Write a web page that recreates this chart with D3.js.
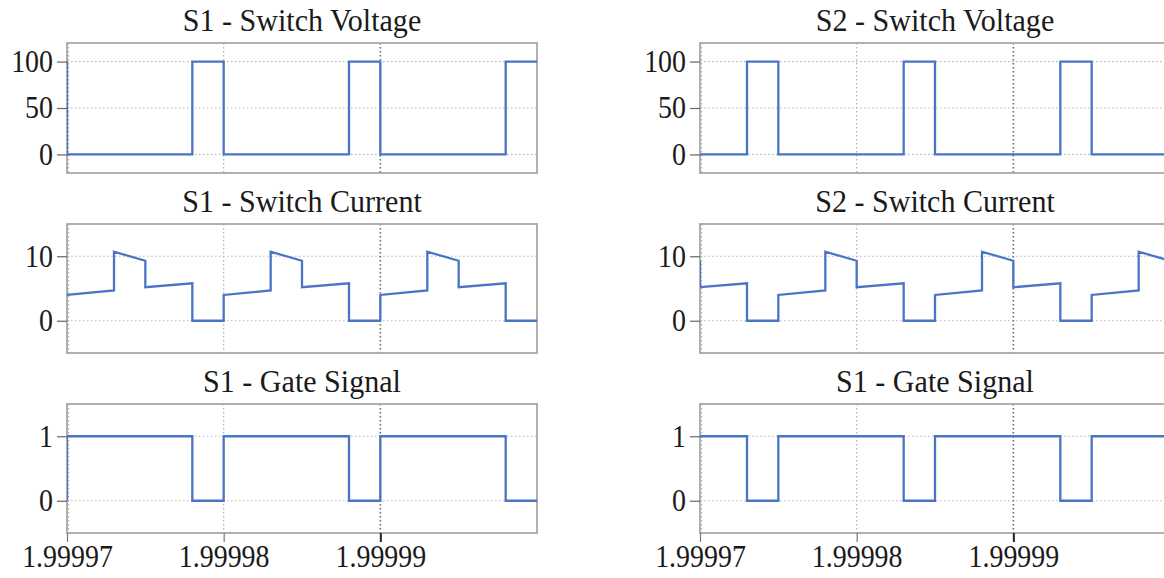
<!DOCTYPE html>
<html><head><meta charset="utf-8">
<script src="https://cdn.jsdelivr.net/npm/d3@7"></script>
<style>
html,body{margin:0;padding:0;background:#fff;overflow:hidden}
svg{display:block}
text{font-family:"Liberation Serif","Times New Roman",serif;fill:#1a1a1a}
</style></head><body>
<svg id="chart" width="1164" height="578"></svg>
<script>
// x axis: microseconds after t = 1.99997 s
const xTickTimes = [0, 10, 20];
const xTickLabels = ["1.99997", "1.99998", "1.99999"];
const xDomain = [0, 30];

const voltTicks = [0, 50, 100];
const currTicks = [0, 10];
const gateTicks = [0, 1];

// S1
const s1VoltT = [0, 0, 8, 8, 10, 10, 18, 18, 20, 20, 28, 28, 30];
const s1VoltV = [100, 0, 0, 100, 100, 0, 0, 100, 100, 0, 0, 100, 100];
const s1CurT = [0, 3, 3, 5, 5, 8, 8, 10, 10, 13, 13, 15, 15, 18, 18, 20, 20, 23, 23, 25, 25, 28, 28, 30];
const s1CurV = [4.0, 4.7, 10.7, 9.3, 5.2, 5.8, 0, 0, 4.0, 4.7, 10.7, 9.3, 5.2, 5.8, 0, 0, 4.0, 4.7, 10.7, 9.3, 5.2, 5.8, 0, 0];
const s1GateT = [0, 0, 8, 8, 10, 10, 18, 18, 20, 20, 28, 28, 30];
const s1GateV = [0, 1, 1, 0, 0, 1, 1, 0, 0, 1, 1, 0, 0];

// S2
const s2VoltT = [0, 3, 3, 5, 5, 13, 13, 15, 15, 23, 23, 25, 25, 30];
const s2VoltV = [0, 0, 100, 100, 0, 0, 100, 100, 0, 0, 100, 100, 0, 0];
const s2CurT = [0, 0, 3, 3, 5, 5, 8, 8, 10, 10, 13, 13, 15, 15, 18, 18, 20, 20, 23, 23, 25, 25, 28, 28, 30];
const s2CurV = [9.3, 5.2, 5.8, 0, 0, 4.0, 4.7, 10.7, 9.3, 5.2, 5.8, 0, 0, 4.0, 4.7, 10.7, 9.3, 5.2, 5.8, 0, 0, 4.0, 4.7, 10.7, 9.3];
const s2GateT = [0, 3, 3, 5, 5, 13, 13, 15, 15, 23, 23, 25, 25, 30];
const s2GateV = [1, 1, 0, 0, 1, 1, 0, 0, 1, 1, 0, 0, 1, 1];

const titles = [
  ["S1 - Switch Voltage", "S2 - Switch Voltage"],
  ["S1 - Switch Current", "S2 - Switch Current"],
  ["S1 - Gate Signal", "S1 - Gate Signal"]
];

const svg = d3.select("#chart");
const colX = [67, 700];
const plotW = 470;
const rowY = [43, 224, 404];
const rowH = [130, 129, 129];
const yDomains = [[-20, 120], [-5, 15], [-0.5, 1.5]];
const yTicksByRow = [voltTicks, currTicks, gateTicks];
const series = [
  [[s1VoltT, s1VoltV], [s2VoltT, s2VoltV]],
  [[s1CurT, s1CurV], [s2CurT, s2CurV]],
  [[s1GateT, s1GateV], [s2GateT, s2GateV]]
];
const lineColor = "#4a74c6";
const tickFont = 31, tickSx = 0.9;
const titleFont = 31, titleSx = 0.97;

for (let r = 0; r < 3; r++) {
  for (let c = 0; c < 2; c++) {
    const x0 = colX[c], y0 = rowY[r], h = rowH[r];
    const x = d3.scaleLinear().domain(xDomain).range([x0, x0 + plotW]);
    const y = d3.scaleLinear().domain(yDomains[r]).range([y0 + h, y0]);
    const g = svg.append("g");
    const clipId = "clip" + r + c;
    svg.append("clipPath").attr("id", clipId).append("rect")
      .attr("x", x0).attr("y", y0).attr("width", plotW).attr("height", h);

    // grid
    g.selectAll(".hg").data(yTicksByRow[r]).enter().append("line")
      .attr("x1", x0).attr("x2", x0 + plotW)
      .attr("y1", d => y(d)).attr("y2", d => y(d))
      .attr("stroke", "#b8b8b8").attr("stroke-width", 1.2).attr("stroke-dasharray", "1.5,2.5");
    g.selectAll(".vg").data(xTickTimes).enter().append("line")
      .attr("x1", d => x(d) + (d === 0 ? 1.5 : 0)).attr("x2", d => x(d) + (d === 0 ? 1.5 : 0))
      .attr("y1", y0).attr("y2", y0 + h)
      .attr("stroke", (d, i) => i === 2 ? "#6a6a6a" : "#b0b0b0")
      .attr("stroke-width", (d, i) => i === 2 ? 1.6 : 1.2)
      .attr("stroke-dasharray", "1.5,2.5");

    // frame
    g.append("rect").attr("x", x0).attr("y", y0).attr("width", plotW).attr("height", h)
      .attr("fill", "none").attr("stroke", "#a8a8a8").attr("stroke-width", 1.8);

    // y axis
    const yAxis = d3.axisLeft(y).tickValues(yTicksByRow[r]).tickSize(10).tickPadding(4).tickFormat(d3.format("d"));
    const ya = svg.append("g").attr("transform", `translate(${x0},0)`).call(yAxis);
    ya.select(".domain").remove();
    ya.selectAll(".tick line").attr("stroke", "#666").attr("stroke-width", 1.2);
    ya.selectAll(".tick text")
      .attr("font-size", tickFont).attr("font-family", "Liberation Serif").attr("fill", "#1a1a1a")
      .attr("x", -14 / tickSx).attr("transform", `scale(${tickSx},1)`);

    // x axis only in bottom row
    if (r === 2) {
      const xAxis = d3.axisBottom(x).tickValues(xTickTimes).tickSize(9).tickPadding(3)
        .tickFormat((d, i) => xTickLabels[i]);
      const xa = svg.append("g").attr("transform", `translate(0,${y0 + h})`).call(xAxis);
      xa.select(".domain").remove();
      xa.selectAll(".tick line").attr("stroke", (d, i) => i === 2 ? "#222" : "#777").attr("stroke-width", (d, i) => i === 2 ? 2 : 1.2);
      xa.selectAll(".tick text")
        .attr("font-size", tickFont).attr("font-family", "Liberation Serif").attr("fill", "#1a1a1a")
        .attr("transform", `scale(${tickSx},1)`);
    }

    // title
    svg.append("text")
      .attr("transform", `translate(${x0 + plotW / 2},${y0 - 12}) scale(${titleSx},1)`)
      .attr("text-anchor", "middle").attr("font-size", titleFont).text(titles[r][c]);

    // data line
    const [ts, vs] = series[r][c];
    const pts = ts.map((t, i) => [t, vs[i]]);
    svg.append("path").datum(pts)
      .attr("clip-path", `url(#${clipId})`)
      .attr("fill", "none").attr("stroke", lineColor).attr("stroke-width", 2.3)
      .attr("stroke-linejoin", "miter")
      .attr("d", d3.line().x(d => x(d[0])).y(d => y(d[1])));
  }
}
</script>
</body></html>
